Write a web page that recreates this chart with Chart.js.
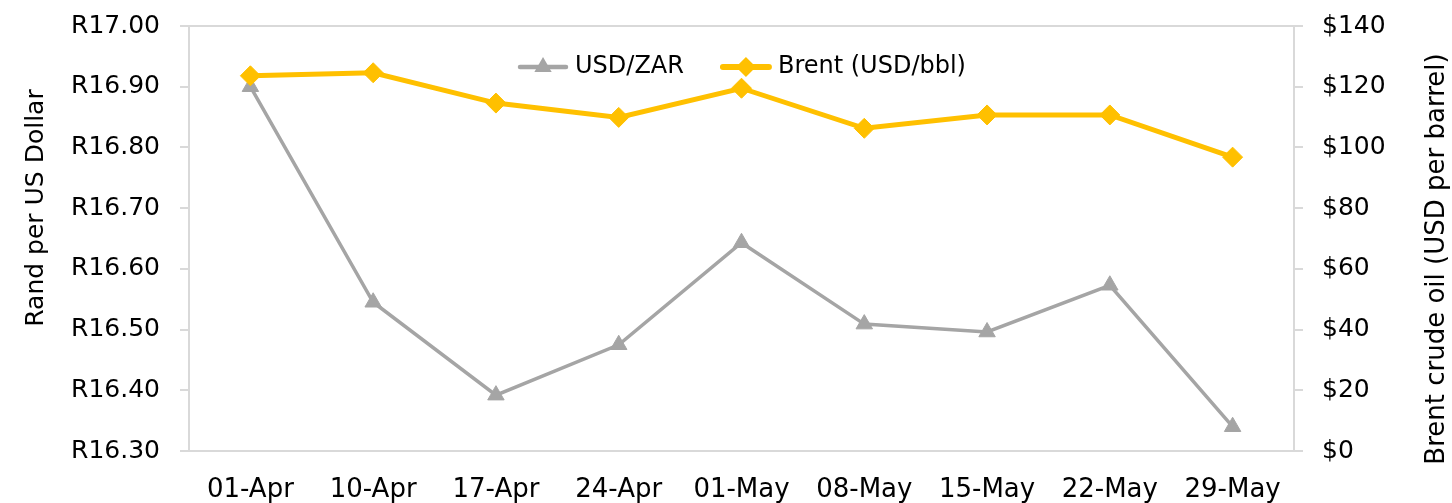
<!DOCTYPE html>
<html>
<head>
<meta charset="utf-8">
<script src="https://cdn.jsdelivr.net/npm/chart.js@4.4.1/dist/chart.umd.min.js"></script>
<style>
  body { margin: 0; background: #fff; }
  #wrap { width: 1452px; height: 503px; }
</style>
</head>
<body>
<div id="wrap"><canvas id="fx-chart" width="1452" height="503"></canvas></div>
<script>
const weeks = ['01-Apr', '10-Apr', '17-Apr', '24-Apr', '01-May', '08-May', '15-May', '22-May', '29-May'];
const usdZar = [16.90, 16.545, 16.392, 16.475, 16.643, 16.509, 16.496, 16.573, 16.340];
const brent = [123.6, 124.6, 114.6, 109.9, 119.5, 106.3, 110.7, 110.7, 96.8];

const randMin = 16.30, randMax = 17.00, randStep = 0.10;
const oilMin = 0, oilMax = 140, oilStep = 20;

const leftTitle = 'Rand per US Dollar';
const rightTitle = 'Brent crude oil (USD per barrel)';

const GREY = '#A5A5A5';
const GOLD = '#FFC000';
const FRAME = '#D9D9D9';
const FONT = '"DejaVu Sans", sans-serif';

// line + marker picture, used for the legend keys
function drawKey(g, x, y, color, lw, shape, r) {
    g.save();
    g.strokeStyle = color;
    g.fillStyle = color;
    g.lineWidth = lw;
    g.lineCap = 'round';
    g.beginPath(); g.moveTo(x + 3, y); g.lineTo(x + 49, y); g.stroke();
    g.beginPath();
    const cx = x + 26;
    if (shape == 'triangle') {
        g.moveTo(cx, y - r);
        g.lineTo(cx + r * 0.866, y + r / 2);
        g.lineTo(cx - r * 0.866, y + r / 2);
    } else {
        g.moveTo(cx, y - r); g.lineTo(cx + r, y);
        g.lineTo(cx, y + r); g.lineTo(cx - r, y);
    }
    g.closePath(); g.fill();
    g.restore();
}

const plotFrame = {
    id: 'plotFrame',
    beforeDatasetsDraw(chart) {
        const { ctx, chartArea: a } = chart;
        ctx.save();
        ctx.strokeStyle = FRAME;
        ctx.lineWidth = 2;
        ctx.strokeRect(a.left, a.top, a.width, a.height);
        ctx.restore();
    }
};

// legend inside the plot, one row, centred (Excel style)
const innerLegend = {
    id: 'innerLegend',
    afterDatasetsDraw(chart) {
        const ctx = chart.ctx;
        const a = chart.chartArea;
        const sets = [chart.data.datasets[1], chart.data.datasets[0]];
        ctx.save();
        ctx.font = '24px ' + FONT;
        ctx.textBaseline = 'middle';
        ctx.fillStyle = '#000';
        const keyW = 52, gapText = 6, gapItem = 36;
        const widths = sets.map(d => ctx.measureText(d.label).width);
        const total = sets.length * (keyW + gapText) + widths[0] + widths[1] + gapItem;
        let x = (a.left + a.right) / 2 - total / 2;
        const y = 67;
        sets.forEach((d, i) => {
            drawKey(ctx, x, y, d.borderColor, d.borderWidth + 1,
                d.pointStyle == 'triangle' ? 'triangle' : 'diamond', 10);
            ctx.fillStyle = '#000';
            ctx.fillText(d.label, x + keyW + gapText, y);
            x += keyW + gapText + widths[i] + gapItem;
        });
        ctx.restore();
    }
};

// axis titles sit where the original put them, not centred on the plot
const axisTitles = {
    id: 'axisTitles',
    afterDraw(chart) {
        const ctx = chart.ctx;
        ctx.save();
        ctx.fillStyle = '#000';
        ctx.textAlign = 'center';
        ctx.textBaseline = 'middle';
        ctx.font = '25px ' + FONT;
        ctx.translate(36, 208);
        ctx.rotate(-Math.PI / 2);
        ctx.fillText(leftTitle, 0, 0);
        ctx.restore();

        ctx.save();
        ctx.fillStyle = '#000';
        ctx.textAlign = 'center';
        ctx.textBaseline = 'middle';
        ctx.font = '26px ' + FONT;
        ctx.translate(1437, 259);
        ctx.rotate(-Math.PI / 2);
        ctx.fillText(rightTitle, 0, 0);
        ctx.restore();
    }
};

// fixed axis sizes so the plot box lands where the original's does
function fixY(width) {
    return function (s) {
        s.width = width;
        s.paddingTop = 0;
        s.paddingBottom = 0;
    };
}

let ctx = document.getElementById('fx-chart').getContext('2d');

window.fxChart = new Chart(ctx, {
    type: 'line',
    data: {
        labels: weeks,
        datasets: [{
            label: 'Brent (USD/bbl)',
            data: brent,
            yAxisID: 'yOil',
            borderColor: GOLD,
            backgroundColor: GOLD,
            borderWidth: 5,
            pointStyle: 'rectRot',
            pointRadius: 10,
            pointBorderWidth: 1,
            tension: 0,
            fill: false
        }, {
            label: 'USD/ZAR',
            data: usdZar,
            yAxisID: 'yRand',
            borderColor: GREY,
            backgroundColor: GREY,
            borderWidth: 3.5,
            pointStyle: 'triangle',
            pointRadius: 9.5,
            pointBorderWidth: 1,
            tension: 0,
            fill: false
        }]
    },
    options: {
        responsive: false,
        animation: false,
        layout: { padding: { top: 26, bottom: 0, left: 0, right: 0 } },
        plugins: {
            tooltip: { enabled: false },
            legend: { display: false }
        },
        scales: {
            x: {
                offset: true,
                grid: { display: false, drawTicks: false },
                border: { display: false },
                ticks: {
                    color: '#000',
                    padding: 24,
                    maxRotation: 0,
                    autoSkip: false,
                    font: { family: FONT, size: 26 }
                },
                afterFit(s) {
                    s.height = 52;
                    s.paddingLeft = 0;
                    s.paddingRight = 0;
                }
            },
            yRand: {
                position: 'left',
                min: randMin,
                max: randMax,
                grid: { drawOnChartArea: false, drawTicks: true, tickLength: 9, color: FRAME, lineWidth: 2 },
                border: { display: false },
                ticks: {
                    stepSize: randStep,
                    color: '#000',
                    padding: 20,
                    font: { family: FONT, size: 25 },
                    callback: v => 'R' + Number(v).toFixed(2)
                },
                afterFit: fixY(189)
            },
            yOil: {
                position: 'right',
                min: oilMin,
                max: oilMax,
                grid: { drawOnChartArea: false, drawTicks: true, tickLength: 9, color: FRAME, lineWidth: 2 },
                border: { display: false },
                ticks: {
                    stepSize: oilStep,
                    color: '#000',
                    padding: 19,
                    font: { family: FONT, size: 25 },
                    callback: v => '$' + v
                },
                afterFit: fixY(158)
            }
        }
    },
    plugins: [plotFrame, innerLegend, axisTitles]
});
</script>
</body>
</html>
